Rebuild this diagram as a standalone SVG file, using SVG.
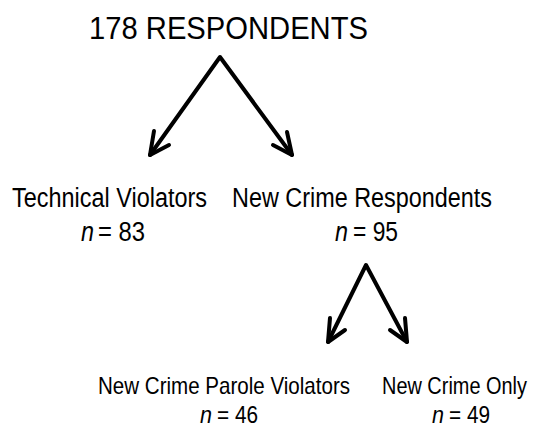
<svg xmlns="http://www.w3.org/2000/svg" width="535" height="429" viewBox="0 0 535 429">
<style>
text{font-family:"Liberation Sans",Arial,sans-serif;fill:#000}
.t{font-size:32px}
.m{font-size:27px}
.s{font-size:24px}
.i{font-style:italic}
.c{fill:none;stroke:#000;stroke-width:4;stroke-linecap:round;stroke-linejoin:round}
</style>
<rect width="535" height="429" fill="#fff"/>
<g id="root"><text class="t" x="89" y="39" textLength="279" lengthAdjust="spacingAndGlyphs">178 RESPONDENTS</text></g>
<g id="technical">
<text class="m" x="12" y="207" textLength="195" lengthAdjust="spacingAndGlyphs">Technical Violators</text>
<text class="m i" x="81" y="241" textLength="13" lengthAdjust="spacingAndGlyphs">n</text>
<text class="m" x="98" y="241" textLength="47" lengthAdjust="spacingAndGlyphs">= 83</text>
</g>
<g id="newcrime">
<text class="m" x="232" y="207" textLength="260" lengthAdjust="spacingAndGlyphs">New Crime Respondents</text>
<text class="m i" x="335" y="241" textLength="13" lengthAdjust="spacingAndGlyphs">n</text>
<text class="m" x="353" y="241" textLength="45" lengthAdjust="spacingAndGlyphs">= 95</text>
</g>
<g id="parole">
<text class="s" x="98" y="394" textLength="252" lengthAdjust="spacingAndGlyphs">New Crime Parole Violators</text>
<text class="s i" x="200" y="423" textLength="12" lengthAdjust="spacingAndGlyphs">n</text>
<text class="s" x="217" y="423" textLength="41" lengthAdjust="spacingAndGlyphs">= 46</text>
</g>
<g id="only">
<text class="s" transform="matrix(0.83 0 0 1 382 394)">New Crime Only</text>
<text class="s i" x="432" y="423" textLength="12" lengthAdjust="spacingAndGlyphs">n</text>
<text class="s" x="449" y="423" textLength="41" lengthAdjust="spacingAndGlyphs">= 49</text>
</g>
<g id="connectors" class="c">
<polyline points="150,155 220,57 292,155"/>
<polyline points="154,131 150,155 169,145"/>
<polyline points="287,132 292,155 273,145"/>
<polyline points="328,342 366,265 407,342"/>
<polyline points="330,318 328,342 345,330"/>
<polyline points="405,318 407,342 390,330"/>
</g>
</svg>
